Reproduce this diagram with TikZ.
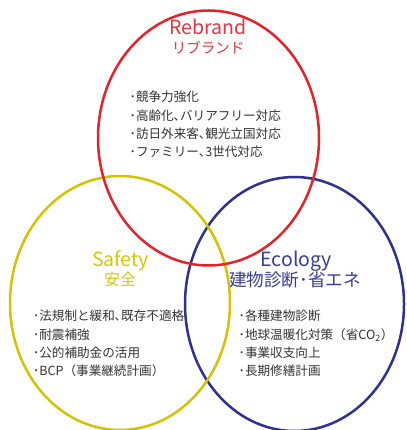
\documentclass[tikz,border=0pt]{standalone}
\usepackage{fontspec}
\setmainfont{Noto Sans CJK JP}
\definecolor{cred}{HTML}{E6212A}
\definecolor{cyellow}{HTML}{D4C300}
\definecolor{cblue}{HTML}{2E3192}
\definecolor{tred}{HTML}{E8333A}
\definecolor{tyellow}{HTML}{D6C60A}
\definecolor{tblue}{HTML}{373C96}
\definecolor{ctext}{HTML}{333333}
\begin{document}
\begin{tikzpicture}[x=1pt,y=1pt,
  ring/.style={line width=2.5pt},
  title/.style={inner sep=0pt,anchor=base,font=\fontsize{19.5}{22}\selectfont},
  subtitle/.style={inner sep=0pt,anchor=center},
  items/.style={inner sep=0pt,anchor=west,align=left,text=ctext,font=\fontsize{12.6}{18.3}\selectfont}]
\useasboundingbox (0,0) rectangle (406,430);
\begin{scope}
\clip (0,0) rectangle (406,430);
\draw[ring,cblue] (294.5,126) ellipse [x radius=109.5, y radius=127];
\draw[ring,cyellow] (120,127) ellipse [x radius=110, y radius=127];
\draw[ring,cred] (208.5,292) ellipse [x radius=110.5, y radius=127.5];
\end{scope}
% Rebrand
\node[title,text=tred] (rebrand) at (208,395) {Rebrand};
\node[subtitle,text=tred,font=\fontsize{14.5}{16}\selectfont] (rebrandjp) at (208,382) {リブランド};
\node[items] (rebranditems) at (129.5,305.5) {･競争力強化\\･高齢化､バリアフリー対応\\･訪日外来客､観光立国対応\\･ファミリー､3世代対応};
% Safety
\node[title,text=tyellow] (safety) at (120.5,163.3) {Safety};
\node[subtitle,text=tyellow,font=\fontsize{16}{18}\selectfont] (safetyjp) at (120,151) {安全};
\node[items] (safetyitems) at (32.8,86.5) {･法規制と緩和､既存不適格\\･耐震補強\\･公的補助金の活用\\･BCP（事業継続計画）};
% Ecology
\node[title,text=tblue] (ecology) at (296.3,163.3) {Ecology};
\node[subtitle,text=tblue,font=\fontsize{17.6}{19}\selectfont] (ecologyjp) at (295,150) {建物診断･省エネ};
\node[items] (ecologyitems) at (238.5,86.5) {･各種建物診断\\･地球温暖化対策（省CO\textsubscript{2}）\\･事業収支向上\\･長期修繕計画};
\end{tikzpicture}
\end{document}
